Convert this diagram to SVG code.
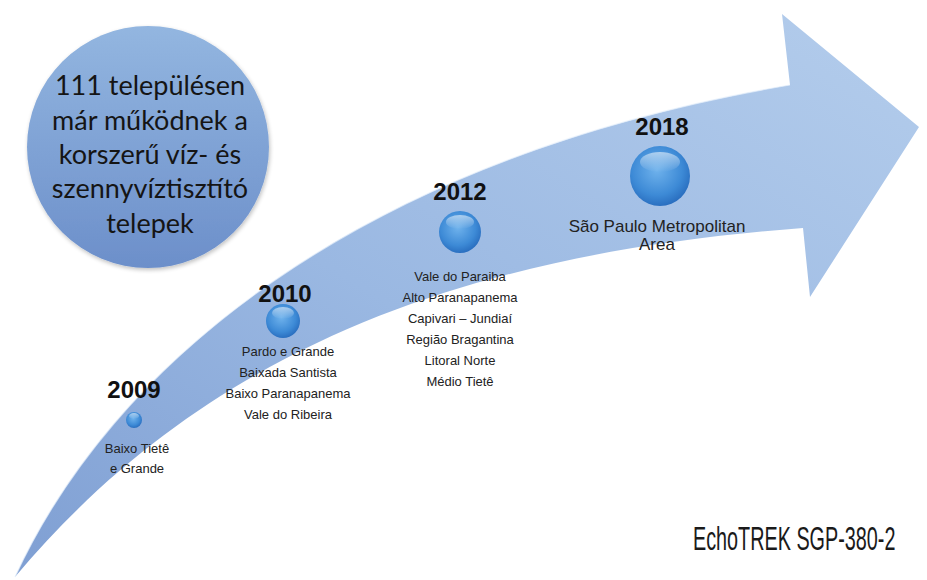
<svg xmlns="http://www.w3.org/2000/svg" width="927" height="580" viewBox="0 0 927 580">
  <defs>
    <linearGradient id="arrowGrad" x1="0" y1="1" x2="1" y2="0">
      <stop offset="0" stop-color="#7f9fd3"/>
      <stop offset="0.45" stop-color="#9ab8e2"/>
      <stop offset="1" stop-color="#b4cdec"/>
    </linearGradient>
    <linearGradient id="circGrad" x1="0" y1="0" x2="0" y2="1">
      <stop offset="0" stop-color="#93b6e0"/>
      <stop offset="1" stop-color="#6c8fca"/>
    </linearGradient>
    <radialGradient id="ballGrad" cx="0.45" cy="0.4" r="0.6">
      <stop offset="0" stop-color="#6fb2ec"/>
      <stop offset="0.7" stop-color="#3d8ad6"/>
      <stop offset="1" stop-color="#2a6fc0"/>
    </radialGradient>
    <linearGradient id="ballHi" x1="0" y1="0" x2="0" y2="1">
      <stop offset="0" stop-color="#ffffff" stop-opacity="0.55"/>
      <stop offset="1" stop-color="#ffffff" stop-opacity="0"/>
    </linearGradient>
    <filter id="soft" x="-20%" y="-20%" width="140%" height="140%">
      <feGaussianBlur in="SourceAlpha" stdDeviation="2"/>
      <feOffset dx="1" dy="2"/>
      <feComponentTransfer><feFuncA type="linear" slope="0.25"/></feComponentTransfer>
      <feMerge><feMergeNode/><feMergeNode in="SourceGraphic"/></feMerge>
    </filter>
  </defs>
  <style>
    .year { font-family: "Liberation Sans", Arial, sans-serif; font-weight: bold; font-size: 24px; fill: #111; text-anchor: middle; }
    .lbl { font-family: "Liberation Sans", Arial, sans-serif; font-size: 13px; fill: #222; text-anchor: middle; }
    .big { font-family: "Lato", "Noto Sans", sans-serif; font-size: 27px; fill: #151515; text-anchor: middle; }
    .ball { fill: url(#ballGrad); }
    .hi { fill: url(#ballHi); }
  </style>
  <rect width="927" height="580" fill="#ffffff"/>

  <g id="arrow">
    <path d="M15,577 C110,370 350,160 790,85 L782,14 L919,127 L810,297 L803,228 C520,250 230,320 15,577 Z" fill="url(#arrowGrad)"/>
    <path d="M15,577 C110,370 350,160 790,85" fill="none" stroke="#e6f0fb" stroke-width="1.2" opacity="0.7"/>
  </g>

  <g id="summary">
    <circle cx="148" cy="147" r="121" fill="url(#circGrad)" filter="url(#soft)"/>
    <text class="big" x="150" y="95">111 településen</text>
    <text class="big" x="150" y="130">már működnek a</text>
    <text class="big" x="150" y="164">korszerű víz- és</text>
    <text class="big" x="150" y="198">szennyvíztisztító</text>
    <text class="big" x="150" y="233">telepek</text>
  </g>

  <g id="m2009">
    <text class="year" x="134" y="398">2009</text>
    <circle class="ball" cx="134" cy="420" r="8"/>
    <ellipse class="hi" cx="134" cy="416" rx="5" ry="3"/>
    <text class="lbl" x="137" y="453">Baixo Tietê</text>
    <text class="lbl" x="137" y="473">e Grande</text>
  </g>

  <g id="m2010">
    <text class="year" x="285" y="302">2010</text>
    <circle class="ball" cx="283" cy="321" r="17"/>
    <ellipse class="hi" cx="283" cy="313" rx="11" ry="6"/>
    <text class="lbl" x="288" y="356">Pardo e Grande</text>
    <text class="lbl" x="288" y="377">Baixada Santista</text>
    <text class="lbl" x="288" y="398">Baixo Paranapanema</text>
    <text class="lbl" x="288" y="419">Vale do Ribeira</text>
  </g>

  <g id="m2012">
    <text class="year" x="460" y="200">2012</text>
    <circle class="ball" cx="460" cy="232" r="21"/>
    <ellipse class="hi" cx="460" cy="222" rx="14" ry="7"/>
    <text class="lbl" x="460" y="281">Vale do Paraiba</text>
    <text class="lbl" x="460" y="302">Alto Paranapanema</text>
    <text class="lbl" x="460" y="323">Capivari – Jundiaí</text>
    <text class="lbl" x="460" y="344">Região Bragantina</text>
    <text class="lbl" x="460" y="365">Litoral Norte</text>
    <text class="lbl" x="460" y="386">Médio Tietê</text>
  </g>

  <g id="m2018">
    <text class="year" x="662" y="135">2018</text>
    <circle class="ball" cx="660" cy="176" r="30"/>
    <ellipse class="hi" cx="660" cy="162" rx="20" ry="10"/>
    <text class="lbl" x="657" y="232" style="font-size:17px">São Paulo Metropolitan</text>
    <text class="lbl" x="657" y="250" style="font-size:17px">Area</text>
  </g>

  <g id="caption">
    <text transform="translate(693,550) scale(0.6,1)" x="0" y="0" font-family="Liberation Sans, Arial, sans-serif" font-size="33" fill="#1a1a1a">EchoTREK SGP-380-2</text>
  </g>
</svg>
